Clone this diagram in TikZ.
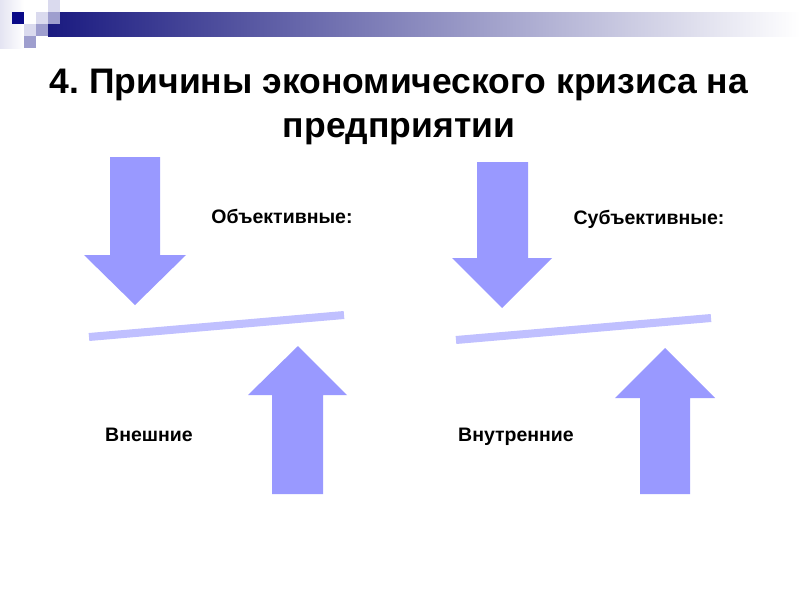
\documentclass[tikz,border=0pt]{standalone}
\usepackage{fontspec}
\setmainfont{Liberation Sans}
\frenchspacing
\definecolor{arrowfill}{HTML}{9999FF}
\definecolor{beam}{HTML}{C0C0FF}
\definecolor{navy}{HTML}{1A1A80}
\definecolor{sqdark}{HTML}{0A0A88}
\definecolor{sqlight}{HTML}{DADAEE}
\definecolor{sqmid}{HTML}{9E9ECE}
\definecolor{fade}{HTML}{E4E4F2}
\tikzset{
  bigarrow/.style={fill=arrowfill, draw=none},
  beamline/.style={draw=beam, line width=8pt},
  label/.style={font=\bfseries\fontsize{19.5}{22}\selectfont, inner sep=0pt},
  titletext/.style={font=\bfseries\fontsize{35.5}{44}\selectfont, align=center, inner sep=0pt}
}
\begin{document}
\begin{tikzpicture}[x=1pt,y=-1pt]
\useasboundingbox (0,0) rectangle (800,600);
\fill[white] (0,0) rectangle (800,600);
% decoration
\shade[left color=fade, right color=white] (0,0) rectangle (24,48);
\shade[left color=navy, right color=white] (48,12) rectangle (800,36);
\fill[sqdark] (12,12) rectangle (24,24);
\fill[sqlight] (48,0) rectangle (60,12);
\fill[sqlight] (36,12) rectangle (48,24);
\fill[sqmid] (48,12) rectangle (60,24);
\fill[sqlight] (24,24) rectangle (36,36);
\fill[sqmid] (36,24) rectangle (48,36);
\fill[sqmid] (24,36) rectangle (36,48);
% title
\node[titletext] (title) at (399,106.5) {4. Причины экономического кризиса на\\предприятии};
% left group
\fill[bigarrow] (110,157) -- (160,157) -- (160,255) -- (186,255) -- (135,305) -- (84,255) -- (110,255) -- cycle;
\fill[bigarrow] (272,494) -- (323,494) -- (323,395) -- (347,395) -- (298,346) -- (248,395) -- (272,395) -- cycle;
\coordinate (b1a) at (89,337);
\coordinate (b1b) at (344,315);
\draw[beamline] (b1a) -- (b1b);
\node[label] (obj) at (282,216) {Объективные:};
\node[label] (vn) at (149,435) {Внешние};
% right group
\fill[bigarrow] (477,162) -- (528,162) -- (528,258) -- (552,258) -- (502,308) -- (452,258) -- (477,258) -- cycle;
\fill[bigarrow] (640,494) -- (690,494) -- (690,398) -- (715,398) -- (665,348) -- (615,398) -- (640,398) -- cycle;
\coordinate (b2a) at (456,340);
\coordinate (b2b) at (711,318);
\draw[beamline] (b2a) -- (b2b);
\node[label] (subj) at (649,219) {Субъективные:};
\node[label] (vnt) at (516,437) {Внутренние};
\end{tikzpicture}
\end{document}
